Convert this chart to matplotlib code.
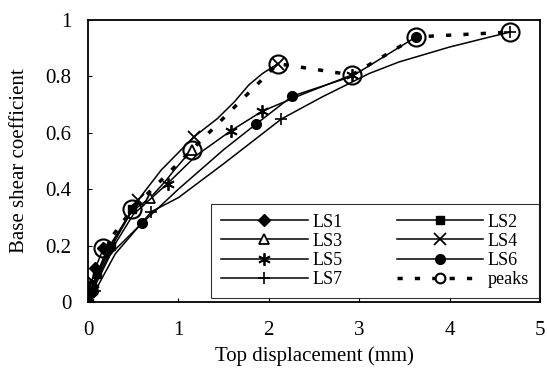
import numpy as np
from matplotlib import pyplot as plt
from matplotlib.lines import Line2D

plt.rcParams['font.family'] = ['Liberation Serif', 'DejaVu Serif']

# load steps LS1..LS7 : top displacement (mm) / base shear coefficient
ls1_x = [0, 0.03, 0.08, 0.17]
ls1_y = [0, 0.06, 0.12, 0.19]
ls2_x = [0, 0.02, 0.10, 0.25, 0.49]
ls2_y = [0, 0.03, 0.10, 0.20, 0.33]
ls3_x = [0, 0.04, 0.20, 0.48, 0.69, 0.85, 0.96, 1.15]
ls3_y = [0, 0.05, 0.18, 0.32, 0.37, 0.426, 0.47, 0.54]
ls4_x = [0, 0.06, 0.25, 0.55, 0.81, 1.17, 1.43, 1.62, 1.78, 1.93, 2.10]
ls4_y = [0, 0.07, 0.19, 0.36, 0.468, 0.585, 0.65, 0.71, 0.77, 0.81, 0.845]
ls5_x = [0, 0.05, 0.25, 0.50, 0.88, 1.20, 1.58, 1.93, 2.40, 2.92]
ls5_y = [0, 0.05, 0.18, 0.31, 0.42, 0.52, 0.607, 0.677, 0.74, 0.805]
ls6_x = [0, 0.05, 0.25, 0.60, 1.00, 1.50, 1.86, 2.26, 2.92, 3.63]
ls6_y = [0, 0.04, 0.17, 0.28, 0.40, 0.54, 0.631, 0.73, 0.80, 0.94]
ls7_x = [0, 0.08, 0.30, 0.70, 1.00, 1.50, 2.14, 2.59, 2.86, 3.11, 3.44, 4.00, 4.40, 4.67]
ls7_y = [0, 0.04, 0.17, 0.32, 0.37, 0.49, 0.649, 0.727, 0.77, 0.81, 0.851, 0.904, 0.936, 0.957]

peak_x = [0, 0.17, 0.49, 1.15, 2.10, 2.92, 3.63, 4.67]
peak_y = [0, 0.19, 0.33, 0.54, 0.845, 0.805, 0.94, 0.957]

fig = plt.figure(figsize=(5.47, 3.70), dpi=100)
ax = fig.add_axes([0.161, 0.184, 0.826, 0.762])

lw = 1.1
l1, = ax.plot(ls1_x, ls1_y, 'k-', lw=lw, marker='D', ms=6, label='LS1')
l2, = ax.plot(ls2_x, ls2_y, 'k-', lw=lw, marker='s', ms=6, label='LS2')
l3, = ax.plot(ls3_x, ls3_y, 'k-', lw=lw, marker='^', ms=7, mfc='white', mew=1.3,
              markevery=[0, 1, 4, 7], label='LS3')
l4, = ax.plot(ls4_x, ls4_y, 'k-', lw=lw, marker='x', ms=8, mew=1.3,
              markevery=[0, 1, 3, 5, 10], label='LS4')
l5, = ax.plot(ls5_x, ls5_y, 'k-', lw=lw, marker=(6, 2, 0), ms=9, mew=1.3,
              markevery=[0, 1, 4, 6, 7, 9], label='LS5')
l6, = ax.plot(ls6_x, ls6_y, 'k-', lw=lw, marker='o', ms=7,
              markevery=[0, 1, 3, 6, 7, 9], label='LS6')
l7, = ax.plot(ls7_x, ls7_y, 'k-', lw=lw, marker='+', ms=9, mew=1.2,
              markevery=[0, 1, 3, 6, 13], label='LS7')
ax.plot(peak_x[1:], peak_y[1:], color='k', lw=2.5, dashes=(1.5, 3.5),
        marker='o', ms=13, mfc='none', mec='k', mew=1.5)

pk = Line2D([], [], color='k', lw=2.5, dashes=(1.5, 3.5), marker='o', ms=7,
            mfc='white', mec='k', mew=1.5, label='peaks')

handles = [l1, l3, l5, l7, l2, l4, l6, pk]
leg = ax.legend(handles=handles, ncol=2, loc='lower right', bbox_to_anchor=(0.998, 0.014),
                fontsize=13, frameon=True, fancybox=False, edgecolor='k',
                handlelength=4.8, handletextpad=0.25, columnspacing=3.0,
                labelspacing=0.12, borderpad=0.55, borderaxespad=0.0)
leg.get_frame().set_linewidth(0.8)

ax.set_xlim(0, 5)
ax.set_ylim(0, 1)
ax.set_xticks([0, 1, 2, 3, 4, 5])
ax.set_yticks([0, 0.2, 0.4, 0.6, 0.8, 1])
ax.set_yticklabels(['0', '0.2', '0.4', '0.6', '0.8', '1'])
ax.tick_params(direction='in', length=3, labelsize=15)
ax.tick_params(axis='y', pad=12)
ax.tick_params(axis='x', pad=14)
for s in ax.spines.values():
    s.set_linewidth(1.3)
ax.set_xlabel('Top displacement (mm)', fontsize=15, labelpad=4)
ax.set_ylabel('Base shear coefficient', fontsize=15, labelpad=12)

plt.savefig('out.png', dpi=100)
